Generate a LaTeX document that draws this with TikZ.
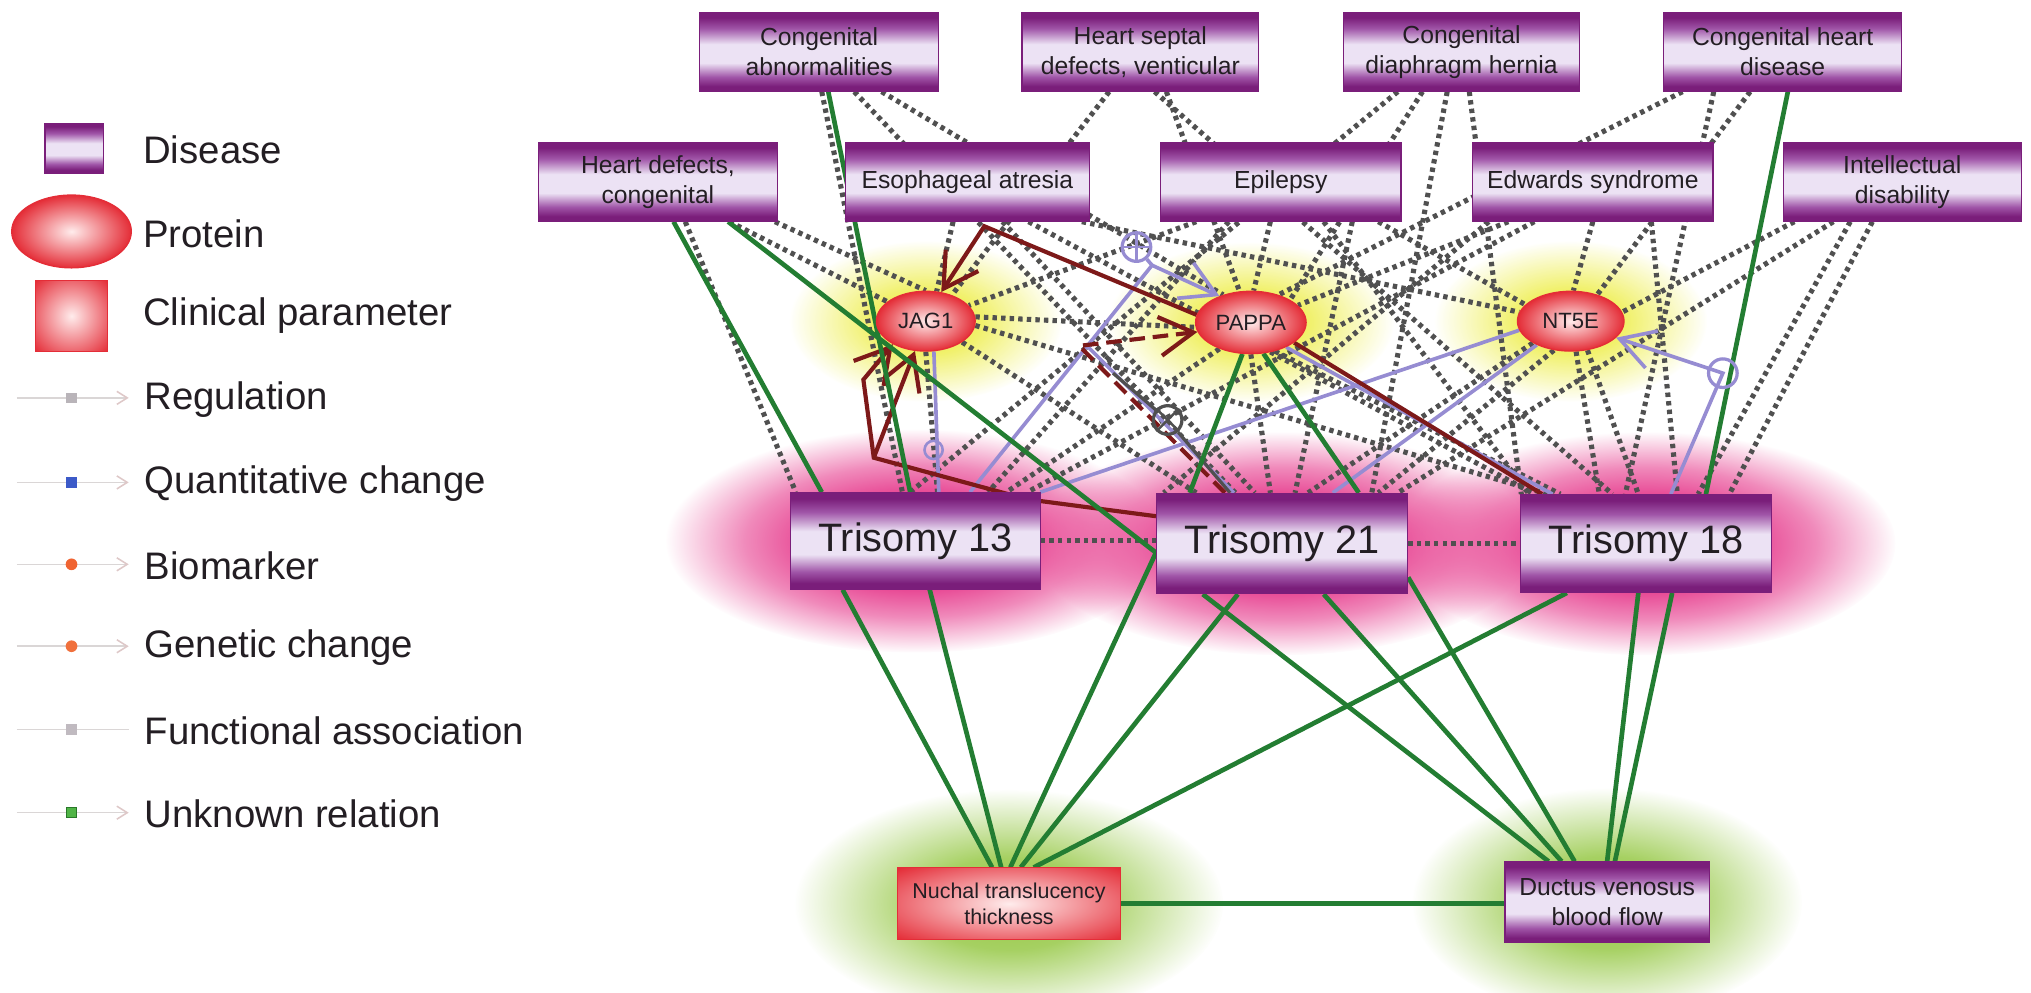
\documentclass[tikz,border=0pt]{standalone}
\usepackage{fontspec}
\setmainfont{Liberation Sans}
\usetikzlibrary{arrows.meta,fadings,calc,shapes.geometric}
\definecolor{dpur}{RGB}{122,30,122}
\definecolor{mpur}{RGB}{160,85,168}
\definecolor{lpur}{RGB}{236,226,244}
\definecolor{grn}{RGB}{35,125,50}
\definecolor{brn}{RGB}{125,25,25}
\definecolor{lav}{RGB}{150,140,210}
\definecolor{dgry}{RGB}{80,80,80}
\definecolor{txt}{RGB}{35,30,35}
\definecolor{pnk}{RGB}{232,75,150}
\definecolor{ylw}{RGB}{238,238,80}
\definecolor{lgrn}{RGB}{150,200,70}
\definecolor{rred}{RGB}{228,45,55}
\definecolor{rmid}{RGB}{236,100,108}
\definecolor{rlight}{RGB}{255,236,236}
\definecolor{legline}{RGB}{218,214,214}
\definecolor{legarr}{RGB}{222,200,200}
\pgfdeclareverticalshading{disshade}{100bp}{color(0bp)=(dpur); color(25bp)=(dpur); color(28bp)=(dpur); color(34bp)=(mpur); color(43bp)=(lpur); color(55bp)=(lpur); color(65bp)=(mpur); color(72bp)=(dpur); color(75bp)=(dpur); color(100bp)=(dpur)}
\pgfdeclareradialshading{clinshade}{\pgfpointorigin}{color(0bp)=(rlight); color(25bp)=(rmid); color(35bp)=(rred); color(50bp)=(rred)}
\pgfdeclareradialshading{glowshade}{\pgfpointorigin}{color(0bp)=(pgftransparent!0); color(10bp)=(pgftransparent!15); color(25bp)=(pgftransparent!100); color(50bp)=(pgftransparent!100)}
\pgfdeclarefading{glowfade}{\pgfuseshading{glowshade}}
\pgfdeclareradialshading{strongshade}{\pgfpointorigin}{color(0bp)=(pgftransparent!0); color(11bp)=(pgftransparent!0); color(17bp)=(pgftransparent!35); color(25bp)=(pgftransparent!100); color(50bp)=(pgftransparent!100)}
\pgfdeclarefading{strongfade}{\pgfuseshading{strongshade}}
\pgfdeclarelayer{bg}
\pgfdeclarelayer{edges}
\pgfsetlayers{bg,edges,main}
\newcommand\fdis{\fontsize{19}{23}\selectfont}
\newcommand\fprot{\fontsize{17}{19}\selectfont}
\newcommand\ftri{\fontsize{30.5}{34}\selectfont}
\newcommand\fleg{\fontsize{29.5}{32}\selectfont}
\newcommand\fclinp{\fontsize{16.5}{20}\selectfont}
\tikzset{
  dis/.style={rectangle, draw=dpur, line width=1pt, shade, shading=disshade, minimum width=184pt, minimum height=60pt, inner sep=0pt, align=center, font=\fdis, text=txt},
  prot/.style={ellipse, draw=rred, line width=1pt, inner color=rlight, outer color=rred, minimum width=80pt, minimum height=47pt, inner sep=0pt, font=\fprot, text=txt},
  tri/.style={dis, minimum width=193pt, minimum height=75pt, font=\ftri},
  clin/.style={rectangle, draw=rred, line width=0.8pt, shade, shading=clinshade, inner sep=0pt, align=center, font=\fclinp, text=txt},
  legtxt/.style={anchor=west, font=\fleg, text=txt, inner sep=0pt},
  unk/.style={draw=grn, line width=3.6pt},
  fa/.style={draw=dgry, line width=3.9pt, dash pattern=on 3.4pt off 3.2pt},
  reg/.style={draw=brn, line width=3.2pt},
  qc/.style={draw=lav, line width=2.8pt},
  bigarrow/.style={-{Straight Barb[length=26pt,width=30pt]}},
  edgemark/.style={circle, minimum size=22pt, inner sep=0pt, line width=2.5pt},
  legl/.style={draw=legline, line width=1.2pt},
  legtip/.style={-{Straight Barb[length=8pt,width=10pt,color=legarr]}},
}
\begin{document}
\begin{tikzpicture}[x=1pt,y=-1pt]
\useasboundingbox (0,0) rectangle (1562,763);

% ---------- legend ----------
\node[dis, minimum width=45pt, minimum height=38pt] (legdis) at (57,114) {};
\node[legtxt] (legdist) at (110,115) {Disease};
\node[prot, minimum width=92pt, minimum height=56pt] (legprot) at (55,178) {};
\node[legtxt] (legprott) at (110,180) {Protein};
\node[clin, minimum width=55pt, minimum height=55pt] (legclin) at (55,243) {};
\node[legtxt] (legclint) at (110,243) {Clinical parameter};

\foreach \yy/\nm in {306/a,371/b,434/c,497/d,561/e,625/f}{
  \coordinate (ls\nm) at (13,\yy);
  \coordinate (lm\nm) at (55,\yy);
  \coordinate (le\nm) at (99,\yy);
}
\draw[legl, legtip] (lsa) -- (lea);
\draw[legl, legtip] (lsb) -- (leb);
\draw[legl, legtip] (lsc) -- (lec);
\draw[legl, legtip] (lsd) -- (led);
\draw[legl] (lse) -- (lee);
\draw[legl, legtip] (lsf) -- (lef);
\node[rectangle, fill={rgb,255:red,185;green,180;blue,185}, minimum size=8pt, inner sep=0pt] (mka) at (lma) {};
\node[rectangle, fill={rgb,255:red,60;green,90;blue,200}, minimum size=8pt, inner sep=0pt] (mkb) at (lmb) {};
\node[circle, fill={rgb,255:red,240;green,100;blue,50}, minimum size=9pt, inner sep=0pt] (mkc) at (lmc) {};
\node[circle, fill={rgb,255:red,240;green,112;blue,60}, minimum size=9pt, inner sep=0pt] (mkd) at (lmd) {};
\node[rectangle, fill={rgb,255:red,192;green,186;blue,192}, minimum size=8pt, inner sep=0pt] (mke) at (lme) {};
\node[rectangle, fill={rgb,255:red,80;green,180;blue,70}, draw={rgb,255:red,40;green,120;blue,40}, line width=0.6pt, minimum size=8pt, inner sep=0pt] (mkf) at (lmf) {};
\node[legtxt] (lta) at (111,307) {Regulation};
\node[legtxt] (ltb) at (111,372) {Quantitative change};
\node[legtxt] (ltc) at (111,435) {Biomarker};
\node[legtxt] (ltd) at (111,498) {Genetic change};
\node[legtxt] (lte) at (111,562) {Functional association};
\node[legtxt] (ltf) at (111,626) {Unknown relation};

% ---------- nodes ----------
\node[dis] (ca) at (630,40) {Congenital\\abnormalities};
\node[dis, minimum width=182pt] (hs) at (877,40) {Heart septal\\defects, venticular};
\node[dis, minimum width=182pt] (cd) at (1124,40) {Congenital\\diaphragm hernia};
\node[dis, minimum width=183pt] (ch) at (1371,40) {Congenital heart\\disease};
\node[dis] (hd) at (506,140) {Heart defects,\\congenital};
\node[dis, minimum width=188pt] (ea) at (744,140) {Esophageal atresia};
\node[dis, minimum width=185pt] (ep) at (985,140) {Epilepsy};
\node[dis, minimum width=185pt] (es) at (1225,140) {Edwards syndrome};
\node[dis, minimum width=183pt] (id) at (1463,140) {Intellectual\\disability};

\node[prot, minimum width=76pt, minimum height=46pt] (jag) at (712,247) {JAG1};
\node[prot, minimum width=85pt, minimum height=48pt] (pap) at (962,248) {PAPPA};
\node[prot, minimum width=82pt, minimum height=46pt] (nt5) at (1208,247) {NT5E};

\node[tri, minimum height=74pt, minimum width=192pt] (t13) at (704,416) {Trisomy 13};
\node[tri, minimum height=77pt] (t21) at (986,418) {Trisomy 21};
\node[tri] (t18) at (1266,418) {Trisomy 18};

\node[clin, minimum width=172pt, minimum height=55pt] (ntt) at (776,695) {Nuchal translucency\\thickness};
\node[dis, minimum width=157pt, minimum height=62pt, font=\fontsize{19}{23}\selectfont] (dv) at (1236,694) {Ductus venosus\\blood flow};

% markers on edges
\coordinate (b1) at (757,174);
\coordinate (b2a) at (790,384);
\coordinate (b2b) at (672,352);
\coordinate (b2c) at (664,292);
\coordinate (b5) at (830,266);
\coordinate (l1b) at (886,204);
\coordinate (l4b) at (1325,287);
\coordinate (l7b) at (837,267);
\coordinate (g1a) at (856,287);
\node[edgemark, draw=lav] (plus1) at (874,190) {};
\draw[lav, line width=2pt] (plus1.north) -- (plus1.south) (plus1.west) -- (plus1.east);
\node[edgemark, draw=lav] (oc2) at (l4b) {};
\node[edgemark, draw=dgry] (gx) at (898,323) {};
\draw[dgry, line width=2pt] (gx.45) -- (gx.225) (gx.135) -- (gx.315);
\node[circle, draw=lav, line width=2pt, minimum size=14pt, inner sep=0pt] (oc3) at (718,346) {};

% ---------- glows ----------
\begin{pgfonlayer}{bg}
\fill[pnk, path fading=strongfade] (t13) ellipse [x radius=192pt, y radius=86pt];
\fill[pnk, path fading=strongfade] (t21) ellipse [x radius=192pt, y radius=86pt];
\fill[pnk, path fading=strongfade] (t18) ellipse [x radius=192pt, y radius=86pt];
\fill[ylw, path fading=glowfade] (jag) ellipse [x radius=105pt, y radius=62pt];
\fill[ylw, path fading=glowfade] (pap) ellipse [x radius=110pt, y radius=62pt];
\fill[ylw, path fading=glowfade] (nt5) ellipse [x radius=105pt, y radius=62pt];
\fill[lgrn, path fading=glowfade] (ntt) ellipse [x radius=165pt, y radius=88pt];
\fill[lgrn, path fading=glowfade] (dv) ellipse [x radius=150pt, y radius=88pt];
\end{pgfonlayer}

% ---------- edges ----------
\begin{pgfonlayer}{edges}
% functional association (dotted)
\draw[fa] ([xshift=21pt]hd.south) -- ([xshift=-92pt]t13.north);
\draw[fa] ([xshift=55pt]hd.south) -- (jag);
\draw[fa] ([xshift=90pt]hd.south) -- (jag.north);
\draw[fa] (jag.5) -- (pap.185);
\draw[fa] ([xshift=2pt]ca.south) -- ([xshift=-10pt]t13.north);
\draw[fa] ([xshift=27pt]ca.south) -- ([xshift=-36pt]t21.north);
\draw[fa] ([xshift=48pt]ca.south) -- (pap.135);
\draw[fa] ([xshift=-11pt]ea.south) -- (jag.70);
\draw[fa] ([xshift=27pt]ea.south) -- ([xshift=-21pt]t21.north);
\draw[fa] ([xshift=47pt]ea.south) -- ([xshift=-86pt]t18.north);
\draw[fa] ([xshift=88pt]ea.south) -- (nt5.170);
\draw[fa] ([xshift=-8pt]ep.south) -- (pap.85);
\draw[fa] ([xshift=33pt]ep.south) -- ([xshift=-90pt]t18.north);
\draw[fa] ([xshift=-40pt]ep.south) -- ([xshift=56pt]t13.north);
\draw[fa] ([xshift=-65pt]ep.south) -- (jag.20);
\draw[fa] ([xshift=55pt]ep.south) -- ([xshift=10pt]t21.north);
\draw[fa] ([xshift=75pt]ep.south) -- (nt5.160);
\draw[fa] ([xshift=-49pt]cd.south) -- ([xshift=-4pt]t13.north);
\draw[fa] ([xshift=-30pt]cd.south) -- (pap.30);
\draw[fa] ([xshift=-11pt]cd.south) -- ([xshift=69pt]t21.north);
\draw[fa] ([xshift=6pt]cd.south) -- ([xshift=-96pt]t18.north);
\draw[fa] ([xshift=-80pt]es.south) -- ([xshift=-91pt]t21.north);
\draw[fa] (es.south) -- (nt5.85);
\draw[fa] ([xshift=-65pt]es.south) -- (pap.20);
\draw[fa] ([xshift=45pt]es.south) -- ([xshift=24pt]t18.north);
\draw[fa] ([xshift=-45pt]es.south) -- ([xshift=86pt]t13.north);
\draw[fa] ([xshift=-77pt]ch.south) -- (pap.45);
\draw[fa] ([xshift=-25pt]ch.south) -- (nt5.45);
\draw[fa] ([xshift=-53pt]ch.south) -- ([xshift=-16pt]t18.north);
\draw[fa] ([xshift=-83pt]id.south) -- (nt5.10);
\draw[fa] ([xshift=-53pt]id.south) -- ([xshift=89pt]t21.north);
\draw[fa] ([xshift=-23pt]id.south) -- ([xshift=64pt]t18.north);
\draw[fa] ([xshift=-40pt]id.south) -- ([xshift=40pt]t18.north);
\draw[fa] ([xshift=-24pt]hs.south) -- (jag.45);
\draw[fa] ([xshift=11pt]hs.south) -- ([xshift=-26pt]t18.north);
\draw[fa] ([xshift=20pt]hs.south) -- (pap.110);
\draw[fa] (jag.south) -- ([xshift=17pt]t13.north);
\draw[fa] (jag.330) -- ([xshift=-66pt]t21.north);
\draw[fa] (jag.355) -- ([xshift=-76pt]t18.north);
\draw[fa] (pap.220) -- ([xshift=70pt]t13.north);
\draw[fa] (pap.south) -- ([xshift=-9pt]t21.north);
\draw[fa] (pap.310) -- ([xshift=-66pt]t18.north);
\draw[fa] (nt5.210) -- ([xshift=20pt]t21.north);
\draw[fa] (nt5.240) -- ([xshift=74pt]t21.north);
\draw[fa] (nt5.280) -- ([xshift=-36pt]t18.north);
\draw[fa] (nt5.300) -- ([xshift=-6pt]t18.north);
\draw[fa] (t13.east) -- (t13.east -| t21.west);
\draw[fa] (t21.east) -- (t21.east -| t18.west);

% quantitative change (lavender)
\draw[qc, bigarrow] ([xshift=42pt]t13.north) -- (l1b) -- (pap.140);
\draw[qc] (plus1) -- (l1b);
\draw[qc] ([xshift=96pt]t13.north) -- (nt5.190);
\draw[qc] ([xshift=39pt]t21.north) -- (nt5.215);
\draw[qc, bigarrow] ([xshift=19pt]t18.north) -- (l4b) -- (nt5.340);
\draw[qc] (jag.285) -- ([xshift=18pt]t13.north);
\draw[qc] (pap.325) -- ([xshift=-72pt]t18.north);
\draw[qc] ([xshift=-37pt]t21.north) -- (l7b);

% gray solid
\draw[dgry, line width=2.5pt] (g1a) -- (gx) -- ([xshift=-40pt]t21.north);

% regulation (brown)
\draw[reg, bigarrow] (pap.172) -- (b1) -- (jag.62);
\draw[reg, bigarrow] ([yshift=21pt]t21.west) -- (b2a) -- (b2b) -- (b2c) -- (jag.215);
\draw[reg, bigarrow] (b2b) -- (jag.250);
\draw[reg] (pap.335) -- ([xshift=-80pt]t18.north);
\draw[reg, dash pattern=on 12pt off 6pt, bigarrow] ([xshift=-44pt]t21.north) -- (b5) -- (pap.190);

% unknown relation (green)
\draw[unk] ([xshift=12pt]hd.south) -- ([xshift=-72pt]t13.north);
\draw[unk] ([xshift=54pt]hd.south) -- ([yshift=-7pt]t21.west);
\draw[unk] ([xshift=7pt]ca.south) -- ([xshift=-4pt]t13.north);
\draw[unk] ([xshift=4pt]ch.south) -- ([xshift=46pt]t18.north);
\draw[unk] (pap.255) -- ([xshift=-71pt]t21.north);
\draw[unk] (pap.292) -- ([xshift=59pt]t21.north);
\draw[unk] ([xshift=-56pt]t13.south) -- ([xshift=-13pt]ntt.north);
\draw[unk] ([xshift=11pt]t13.south) -- ([xshift=-6pt]ntt.north);
\draw[unk] ([yshift=-7pt]t21.west) -- ([xshift=1pt]ntt.north);
\draw[unk] ([xshift=-34pt]t21.south) -- ([xshift=9pt]ntt.north);
\draw[unk] ([xshift=-61pt]t18.south) -- ([xshift=19pt]ntt.north);
\draw[unk] ([xshift=-61pt]t21.south) -- ([xshift=-45pt]dv.north);
\draw[unk] ([xshift=32pt]t21.south) -- ([xshift=-35pt]dv.north);
\draw[unk] ([yshift=-26pt]t21.east) -- ([xshift=-25pt]dv.north);
\draw[unk] ([xshift=-6pt]t18.south) -- (dv.north);
\draw[unk] ([xshift=20pt]t18.south) -- ([xshift=6pt]dv.north);
\draw[unk] (ntt.east) -- (ntt.east -| dv.west);
\end{pgfonlayer}
\end{tikzpicture}
\end{document}
